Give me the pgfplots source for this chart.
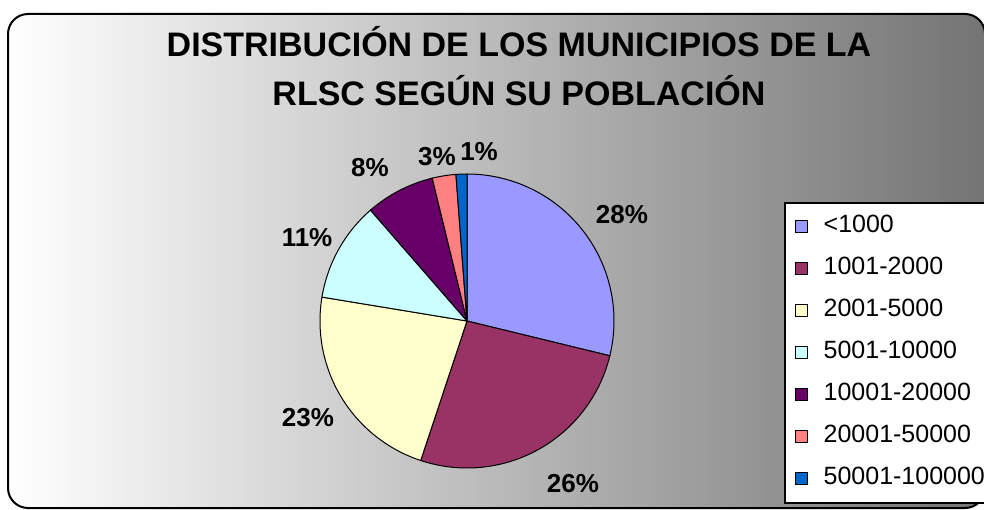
\documentclass[border=0pt]{standalone}
\usepackage{pgfplots}
\pgfplotsset{compat=1.18}
\usepackage{fontspec}
\setmainfont{Liberation Sans}
\definecolor{s1}{HTML}{9999FF}
\definecolor{s2}{HTML}{993366}
\definecolor{s3}{HTML}{FFFFCC}
\definecolor{s4}{HTML}{CCFFFF}
\definecolor{s5}{HTML}{660066}
\definecolor{s6}{HTML}{FF8080}
\definecolor{s7}{HTML}{0066CC}
\definecolor{bgright}{HTML}{747474}
\begin{document}
\begin{tikzpicture}[x=1pt,y=1pt]
\useasboundingbox (0,0) rectangle (984,509);
% chart area with horizontal gradient
\draw[line width=2pt, rounded corners=20pt, left color=white, right color=bgright]
  (8,1) rectangle (985,495);
% title
\node[anchor=base, font=\fontsize{34}{40}\selectfont\bfseries] at (519,452) {DISTRIBUCIÓN DE LOS MUNICIPIOS DE LA};
\node[anchor=base, font=\fontsize{34}{40}\selectfont\bfseries] at (519,403) {RLSC SEGÚN SU POBLACIÓN};
\begin{axis}[
  at={(467pt,188pt)}, anchor=center, scale only axis,
  x=147pt, y=147pt,
  xmin=-1.2, xmax=1.2, ymin=-1.2, ymax=1.2,
  hide axis, clip=false,
  area legend,
  legend image code/.code={\draw[#1,draw=black,line width=0.9pt] (0pt,-6pt) rectangle (12pt,6pt);},
  legend cell align=left,
  legend style={
    at={(1.3985,0.8373)}, anchor=north west,
    draw=black, line width=1.5pt, fill=white,
    font=\fontsize{25}{29}\selectfont,
    inner xsep=10pt, inner ysep=11pt,
    row sep=16pt, column sep=14pt,
    nodes={inner sep=2pt, text height=17pt, text depth=5pt},
  },
]
% percentages (clockwise from 12 o'clock): 28.8, 26.3, 22.5, 11.0, 7.6, 2.6, 1.2
% sector angles (degrees, counter-clockwise from the x axis) from those shares
\addplot[fill=s1, draw=black, line width=1pt, domain=-13.68:90, samples=80] ({cos(x)},{sin(x)}) -- (axis cs:0,0) -- cycle;
\addplot[fill=s2, draw=black, line width=1pt, domain=-108.36:-13.68, samples=80] ({cos(x)},{sin(x)}) -- (axis cs:0,0) -- cycle;
\addplot[fill=s3, draw=black, line width=1pt, domain=-189.36:-108.36, samples=80] ({cos(x)},{sin(x)}) -- (axis cs:0,0) -- cycle;
\addplot[fill=s4, draw=black, line width=1pt, domain=-228.96:-189.36, samples=40] ({cos(x)},{sin(x)}) -- (axis cs:0,0) -- cycle;
\addplot[fill=s5, draw=black, line width=1pt, domain=-256.32:-228.96, samples=30] ({cos(x)},{sin(x)}) -- (axis cs:0,0) -- cycle;
\addplot[fill=s6, draw=black, line width=1pt, domain=-265.68:-256.32, samples=12] ({cos(x)},{sin(x)}) -- (axis cs:0,0) -- cycle;
\addplot[fill=s7, draw=black, line width=1pt, domain=-270:-265.68, samples=8] ({cos(x)},{sin(x)}) -- (axis cs:0,0) -- cycle;
\legend{<1000,1001-2000,2001-5000,5001-10000,10001-20000,20001-50000,50001-100000}
\begin{scope}[every node/.style={font=\fontsize{26}{30}\selectfont\bfseries}]
\node at (axis cs:1.054,0.721) {28\%};
\node at (axis cs:0.721,-1.107) {26\%};
\node at (axis cs:-1.082,-0.660) {23\%};
\node at (axis cs:-1.088,0.565) {11\%};
\node at (axis cs:-0.660,1.041) {8\%};
\node at (axis cs:-0.204,1.116) {3\%};
\node at (axis cs:0.082,1.156) {1\%};
\end{scope}
\end{axis}
\end{tikzpicture}
\end{document}
